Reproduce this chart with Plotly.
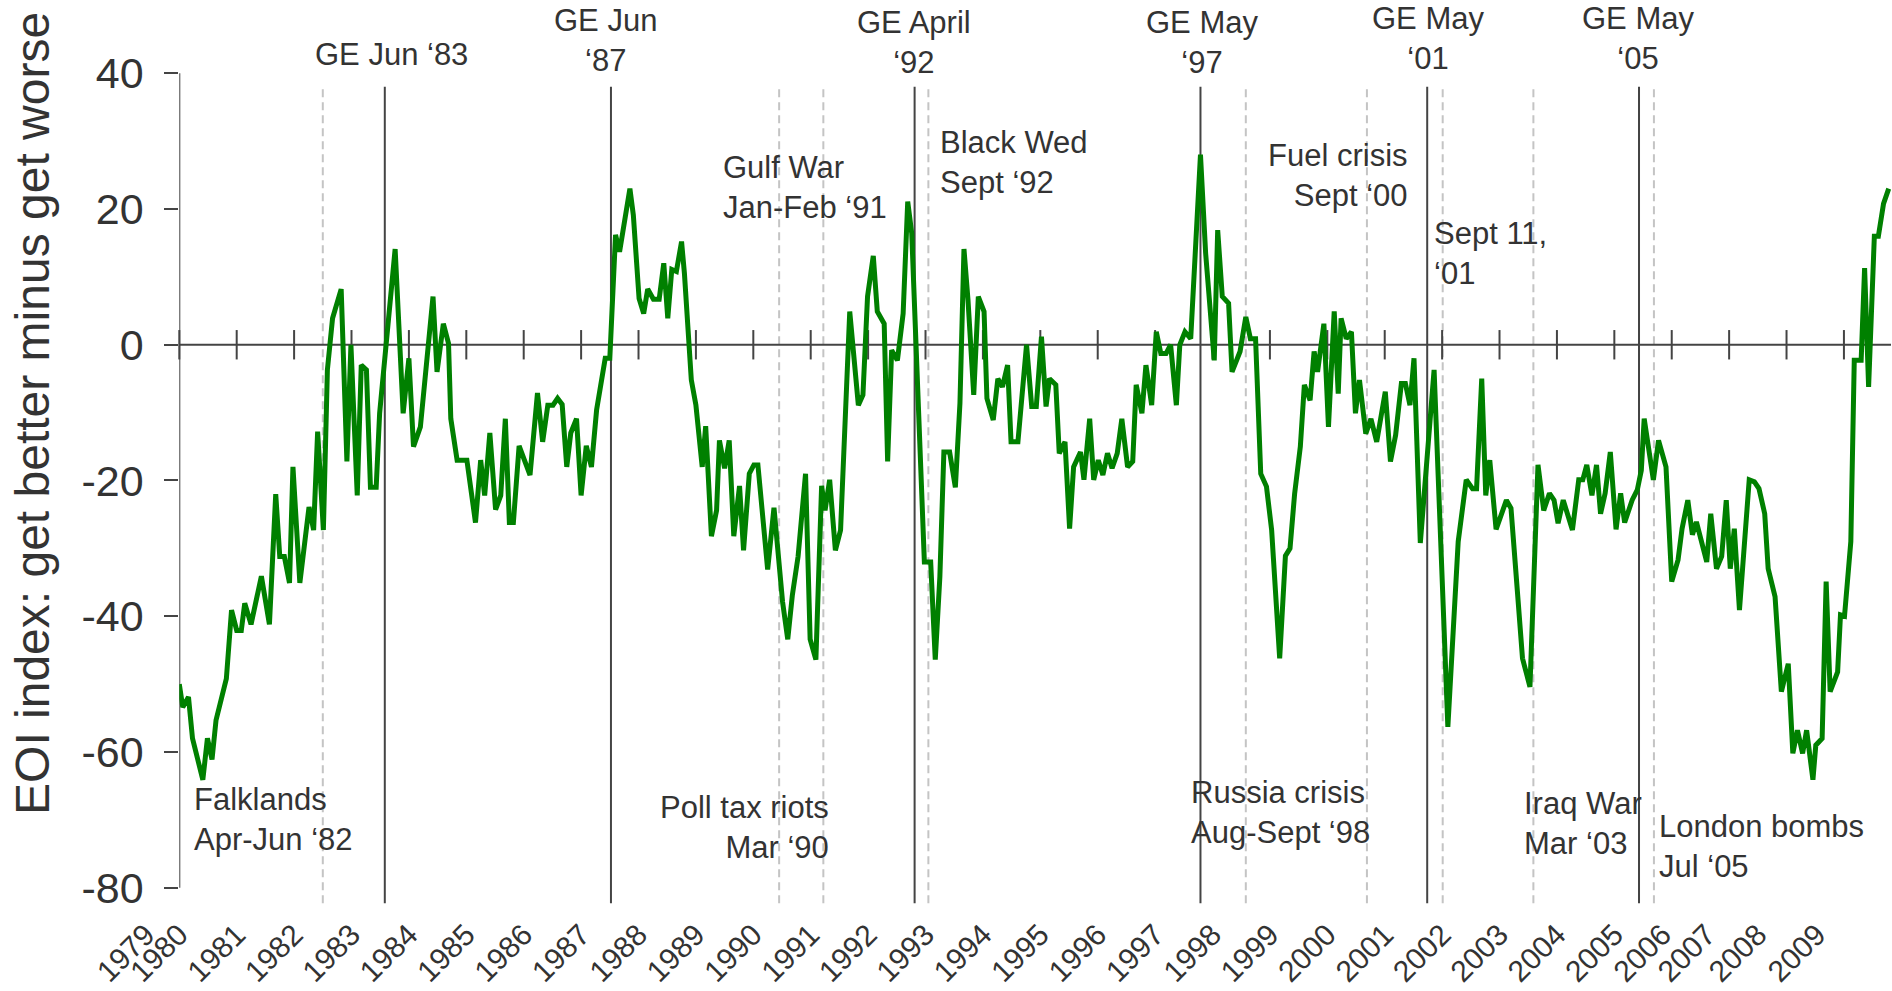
import plotly.graph_objects as go

# ---------------- data ----------------
dates = [1980.00, 1980.06, 1980.16, 1980.23, 1980.41, 1980.49, 1980.57, 1980.64, 1980.82, 1980.91,
         1981.00, 1981.08, 1981.14, 1981.25, 1981.43, 1981.57, 1981.68, 1981.75, 1981.83, 1981.92,
         1981.98, 1982.10, 1982.26, 1982.34, 1982.41, 1982.51, 1982.58, 1982.67, 1982.82, 1982.92,
         1982.99, 1983.10, 1983.17, 1983.26, 1983.33, 1983.43, 1983.49, 1983.76, 1983.90, 1984.00,
         1984.08, 1984.20, 1984.42, 1984.49, 1984.60, 1984.69, 1984.73, 1984.84, 1985.01, 1985.16,
         1985.25, 1985.32, 1985.41, 1985.51, 1985.60, 1985.68, 1985.75, 1985.82, 1985.92, 1986.11,
         1986.24, 1986.33, 1986.42, 1986.51, 1986.59, 1986.67, 1986.75, 1986.82, 1986.92, 1987.00,
         1987.09, 1987.18, 1987.27, 1987.42, 1987.50, 1987.60, 1987.67, 1987.85, 1987.91, 1988.01,
         1988.09, 1988.16, 1988.26, 1988.36, 1988.44, 1988.51, 1988.58, 1988.66, 1988.75, 1988.80,
         1988.92, 1989.00, 1989.11, 1989.17, 1989.27, 1989.36, 1989.41, 1989.50, 1989.58, 1989.66,
         1989.76, 1989.83, 1989.93, 1990.01, 1990.08, 1990.25, 1990.36, 1990.43, 1990.51, 1990.60,
         1990.68, 1990.78, 1990.91, 1990.99, 1991.09, 1991.19, 1991.25, 1991.33, 1991.43, 1991.52,
         1991.68, 1991.83, 1991.91, 1991.99, 1992.09, 1992.16, 1992.28, 1992.34, 1992.41, 1992.51,
         1992.61, 1992.69, 1992.76, 1992.98, 1993.09, 1993.17, 1993.25, 1993.32, 1993.42, 1993.52,
         1993.60, 1993.67, 1993.74, 1993.84, 1993.92, 1994.02, 1994.07, 1994.18, 1994.26, 1994.34,
         1994.43, 1994.49, 1994.61, 1994.76, 1994.85, 1994.93, 1995.02, 1995.10, 1995.16, 1995.27,
         1995.33, 1995.43, 1995.51, 1995.58, 1995.70, 1995.76, 1995.86, 1995.93, 1996.01, 1996.09,
         1996.17, 1996.25, 1996.34, 1996.42, 1996.52, 1996.61, 1996.67, 1996.77, 1996.84, 1996.94,
         1997.02, 1997.10, 1997.19, 1997.27, 1997.37, 1997.43, 1997.52, 1997.62, 1997.79, 1997.88,
         1998.03, 1998.09, 1998.17, 1998.28, 1998.34, 1998.48, 1998.58, 1998.66, 1998.75, 1998.84,
         1998.94, 1999.03, 1999.17, 1999.27, 1999.35, 1999.43, 1999.53, 1999.60, 1999.70, 1999.77,
         1999.83, 1999.94, 2000.02, 2000.12, 2000.19, 2000.24, 2000.33, 2000.42, 2000.49, 2000.56,
         2000.67, 2000.76, 2000.86, 2001.01, 2001.10, 2001.19, 2001.29, 2001.36, 2001.44, 2001.51,
         2001.62, 2001.86, 2002.10, 2002.28, 2002.42, 2002.53, 2002.60, 2002.69, 2002.76, 2002.83,
         2002.94, 2003.12, 2003.20, 2003.31, 2003.40, 2003.53, 2003.67, 2003.77, 2003.87, 2003.95,
         2004.02, 2004.11, 2004.27, 2004.38, 2004.45, 2004.52, 2004.61, 2004.69, 2004.76, 2004.84,
         2004.93, 2005.03, 2005.11, 2005.18, 2005.31, 2005.40, 2005.47, 2005.52, 2005.59, 2005.68,
         2005.77, 2005.90, 2006.00, 2006.11, 2006.18, 2006.28, 2006.36, 2006.43, 2006.61, 2006.68,
         2006.78, 2006.87, 2006.95, 2007.02, 2007.09, 2007.18, 2007.35, 2007.44, 2007.52, 2007.62,
         2007.68, 2007.80, 2007.91, 2008.03, 2008.11, 2008.19, 2008.28, 2008.35, 2008.46, 2008.51,
         2008.62, 2008.69, 2008.76, 2008.89, 2008.94, 2009.01, 2009.12, 2009.18, 2009.30, 2009.36,
         2009.43, 2009.53, 2009.60, 2009.69, 2009.78]

eoi = [-50.0, -53.4, -51.9, -58.0, -64.1, -58.0, -61.1, -55.3, -49.2, -39.1,
       -42.1, -42.1, -38.1, -41.2, -34.1, -41.2, -22.0, -31.2, -31.2, -35.1,
       -18.0, -35.1, -23.9, -27.3, -12.8, -27.3, -3.7, 3.9, 8.2, -17.2,
       0.0, -22.2, -3.0, -3.7, -21.0, -21.0, -10.1, 14.1, -10.1, -2.0,
       -15.0, -12.1, 7.1, -4.0, 3.1, 0.2, -10.9, -17.0, -17.0, -26.2,
       -17.0, -22.2, -13.0, -24.3, -22.2, -10.9, -26.2, -26.2, -14.9, -19.2,
       -7.1, -14.3, -8.9, -8.9, -7.9, -8.8, -18.0, -13.0, -10.9, -22.2,
       -14.9, -18.0, -9.6, -2.0, -2.0, 16.2, 13.7, 23.0, 19.1, 6.8,
       4.6, 8.2, 6.7, 6.7, 12.0, 3.9, 11.1, 10.8, 15.2, 10.5,
       -5.2, -8.9, -18.0, -12.0, -28.2, -24.4, -14.1, -18.2, -14.1, -28.2,
       -20.8, -30.3, -19.0, -17.7, -17.7, -33.1, -24.0, -29.8, -37.9, -43.4,
       -36.9, -31.2, -19.0, -43.4, -46.4, -20.8, -24.4, -19.9, -30.3, -27.3,
       4.9, -8.9, -7.4, 7.1, 13.1, 4.9, 3.1, -17.2, -0.8, -2.3,
       4.6, 21.1, 16.4, -32.0, -32.0, -46.4, -34.2, -15.8, -15.8, -21.0,
       -8.6, 14.1, 6.6, -7.4, 7.1, 4.9, -7.9, -11.1, -5.0, -6.2,
       -3.0, -14.3, -14.3, 0.0, -9.1, -9.1, 1.2, -9.1, -5.0, -5.9,
       -16.0, -14.3, -27.1, -18.0, -15.8, -19.9, -10.9, -19.9, -17.0, -19.2,
       -16.0, -18.2, -16.0, -10.9, -18.0, -17.2, -5.9, -10.1, -3.0, -8.9,
       1.9, -1.3, -1.3, 0.0, -8.9, 0.0, 1.9, 0.9, 28.0, 13.5,
       -2.3, 16.9, 7.1, 6.1, -4.0, -1.0, 4.1, 0.9, 0.9, -19.0,
       -20.9, -27.3, -46.2, -31.1, -30.0, -22.0, -15.0, -5.9, -8.2, -1.0,
       -4.0, 3.1, -12.1, 4.9, -7.2, 3.9, 0.9, 1.9, -10.1, -5.2,
       -13.1, -10.9, -14.3, -6.9, -17.2, -13.3, -5.7, -5.7, -8.9, -2.0,
       -29.2, -3.7, -56.3, -29.0, -19.9, -21.2, -21.2, -5.0, -22.2, -17.0,
       -27.2, -22.9, -24.1, -36.2, -46.2, -50.4, -17.7, -24.4, -21.9, -22.9,
       -26.3, -22.9, -27.3, -19.9, -19.9, -17.7, -22.2, -17.7, -24.9, -21.9,
       -15.8, -27.2, -21.9, -26.2, -22.9, -21.4, -18.5, -10.9, -14.6, -19.9,
       -14.1, -18.0, -34.9, -31.7, -27.1, -22.9, -28.0, -26.1, -32.0, -24.9,
       -33.0, -31.2, -22.9, -33.0, -27.1, -39.1, -19.9, -20.2, -21.2, -24.9,
       -33.0, -37.1, -51.1, -47.0, -60.2, -56.8, -60.2, -56.8, -64.1, -59.0,
       -58.0, -34.9, -51.1, -48.2, -39.8, -40.0, -29.0, -2.3, -2.3, 11.3,
       -6.2, 16.0, 16.0, 20.8, 23.0]

# yearly markers on the zero line
year_marks = list(range(1980, 2010))

# bottom year labels and where they sit on the time axis
year_labels = [str(y) for y in range(1979, 2010)]
year_label_pos = [1979.42, 1980.0, 1981.0, 1982.0, 1983.0, 1984.0, 1985.0, 1986.0, 1987.0, 1988.0,
                  1989.0, 1990.0, 1991.0, 1992.0, 1993.0, 1994.0, 1995.0, 1996.0, 1997.0, 1998.0,
                  1999.0, 2000.0, 2001.0, 2002.0, 2003.0, 2004.0, 2005.0, 2005.84, 2006.61, 2007.5,
                  2008.53]

# general elections (solid lines)
ge_labels = ["GE Jun \u201883", "GE Jun<br>\u201887", "GE April<br>\u201892",
             "GE May<br>\u201897", "GE May<br>\u201801", "GE May<br>\u201805"]
ge_dates = [1983.58, 1987.52, 1992.81, 1997.79, 2001.74, 2005.43]

# other events (dashed lines)
ev_labels = ["Falklands<br>Apr-Jun \u201882", "Poll tax riots<br>Mar \u201890",
             "Gulf War<br>Jan-Feb \u201891", "Black Wed<br>Sept \u201892",
             "Russia crisis<br>Aug-Sept \u201898", "Fuel crisis<br>Sept \u201800",
             "Sept 11,<br>\u201801", "Iraq War<br>Mar \u201803", "London bombs<br>Jul \u201805"]
ev_dates = [1982.50, 1990.45, 1991.22, 1993.05, 1998.58, 2000.69, 2002.01, 2003.59, 2005.69]

y_ticks = [-80, -60, -40, -20, 0, 20, 40]

# ---------------- layout settings ----------------
FONT = "Liberation Sans, Arial, Helvetica, sans-serif"
TXT = "#333333"
W, H = 1892, 991
M_L, M_R, M_T, M_B = 100, 1, 2, 87
AXIS_PX = 179.3                      # where the value axis sits, in page pixels
X_RANGE = [1980.0, 2009.82]
Y_RANGE = [-82.4, 50.5]
LINE_TOP, LINE_BOT = 38.0, -82.3

plot_w = W - M_L - M_R
d0 = (AXIS_PX - M_L) / plot_w
px_per_year = (1 - d0) * plot_w / (X_RANGE[1] - X_RANGE[0])
X2_RANGE = [X_RANGE[0] - d0 * plot_w / px_per_year, X_RANGE[1]]

# label placement: (x, y, xanchor, align)
ge_place = [(1983.70, 42.7, "center", "center"), (1987.42, 44.8, "center", "center"),
            (1992.80, 44.5, "center", "center"), (1997.82, 44.5, "center", "center"),
            (2001.76, 45.1, "center", "center"), (2005.42, 45.1, "center", "center")]
ev_place = [(1980.22, -70.0, "left", "left"), (1991.36, -71.1, "right", "right"),
            (1989.43, 23.1, "left", "left"), (1993.21, 26.8, "left", "left"),
            (1997.59, -68.9, "left", "left"), (2001.44, 24.9, "right", "right"),
            (2001.82, 13.5, "left", "left"), (2003.39, -70.5, "left", "left"),
            (2005.75, -74.0, "left", "left")]

fig = go.Figure()

shapes = []
for d in ge_dates:
    shapes.append(dict(type="line", xref="x", yref="y", x0=d, x1=d, y0=LINE_BOT, y1=LINE_TOP,
                       line=dict(color="#444444", width=2), layer="below"))
for d in ev_dates:
    shapes.append(dict(type="line", xref="x", yref="y", x0=d, x1=d, y0=LINE_BOT, y1=LINE_TOP,
                       line=dict(color="#c4c4c4", width=2, dash="8px,5px"), layer="below"))
# zero line
shapes.append(dict(type="line", xref="x", yref="y", x0=X_RANGE[0], x1=X_RANGE[1], y0=0, y1=0,
                   line=dict(color="#444444", width=2), layer="below"))
# y axis line (from -80 to 40 only)
shapes.append(dict(type="line", xref="x", yref="y", x0=X_RANGE[0], x1=X_RANGE[0],
                   y0=y_ticks[0], y1=y_ticks[-1], line=dict(color="#444444", width=2),
                   layer="below"))

# year tick marks across the zero line
fig.add_trace(go.Scatter(x=year_marks, y=[0] * len(year_marks), mode="markers",
                         marker=dict(symbol="line-ns", size=21,
                                     line=dict(color="#444444", width=2)),
                         hoverinfo="skip", showlegend=False, cliponaxis=False))

fig.add_trace(go.Scatter(x=dates, y=eoi, mode="lines",
                         line=dict(color="#008000", width=5), showlegend=False))

# empty trace so the label axis is drawn
fig.add_trace(go.Scatter(x=[], y=[], xaxis="x2", yaxis="y", showlegend=False,
                         hoverinfo="skip"))

annotations = []
for txt, (x, y, xa, al) in zip(ge_labels, ge_place):
    annotations.append(dict(x=x, y=y, xref="x", yref="y", text=txt, showarrow=False,
                            xanchor=xa, yanchor="middle", align=al,
                            font=dict(family=FONT, size=31, color=TXT)))
for txt, (x, y, xa, al) in zip(ev_labels, ev_place):
    annotations.append(dict(x=x, y=y, xref="x", yref="y", text=txt, showarrow=False,
                            xanchor=xa, yanchor="middle", align=al,
                            font=dict(family=FONT, size=31, color=TXT)))

# y axis title
annotations.append(dict(x=(33 - M_L) / plot_w, y=-10.2, xref="paper", yref="y",
                        text="EOI index: get better minus get worse", showarrow=False,
                        textangle=-90, xanchor="center", yanchor="middle",
                        font=dict(family=FONT, size=48, color=TXT)))

fig.update_layout(
    template="none",
    width=W, height=H,
    margin=dict(l=M_L, r=M_R, t=M_T, b=M_B),
    paper_bgcolor="white", plot_bgcolor="rgba(0,0,0,0)",
    shapes=shapes, annotations=annotations, showlegend=False,
    xaxis=dict(domain=[d0, 1], range=X_RANGE, showticklabels=False, ticks="",
               showline=False, showgrid=False, zeroline=False, automargin=False,
               anchor="y"),
    xaxis2=dict(domain=[0, 1], range=X2_RANGE, anchor="y", side="bottom",
                tickmode="array", tickvals=year_label_pos, ticktext=year_labels,
                tickangle=-45, ticks="", showline=False, showgrid=False, zeroline=False,
                automargin=False, ticklabelstandoff=6,
                tickfont=dict(family=FONT, size=30, color=TXT)),
    yaxis=dict(range=Y_RANGE, anchor="x", tickmode="array", tickvals=y_ticks,
               ticktext=[str(v) for v in y_ticks], ticks="outside", ticklen=14,
               tickwidth=2, tickcolor="#444444", showline=False, showgrid=False,
               zeroline=False, ticklabelstandoff=12, automargin=False,
               tickfont=dict(family=FONT, size=43, color=TXT)),
)

page_fix = ("document.documentElement.style.margin='0';"
            "document.body.style.margin='0';"
            "document.documentElement.style.overflow='hidden';"
            "document.body.style.overflow='hidden';")

fig.write_html("out.html", post_script=page_fix, config={"displayModeBar": False})
